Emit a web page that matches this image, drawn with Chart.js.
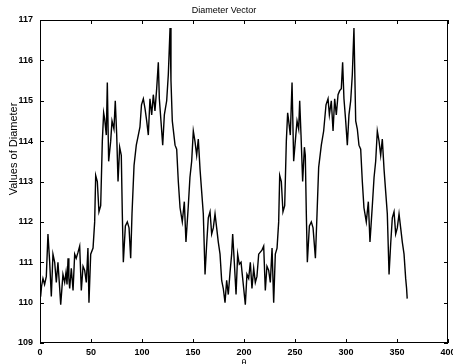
<!DOCTYPE html>
<html>
<head>
<meta charset="utf-8">
<script src="https://cdn.jsdelivr.net/npm/chart.js@4/dist/chart.umd.min.js"></script>
<style>
html,body{margin:0;padding:0;background:#fff;overflow:hidden;}
#wrap{width:453px;height:364px;position:relative;}
</style>
</head>
<body>
<div id="wrap"><canvas id="c"></canvas></div>
<script>
const chartTitle = 'Diameter Vector';
const yAxisTitle = 'Values of Diameter';
const xAxisTitle = 'θ';
const xTickValues = [0, 50, 100, 150, 200, 250, 300, 350, 400];
const yTickValues = [109, 110, 111, 112, 113, 114, 115, 116, 117];

const thetas = [
0.6,1.5,2.9,4.5,6.2,7.8,9.5,11.1,12.7,14.4,16.0,17.6,19.3,20.3,22.5,24.2,25.5,26.5,27.5,28.3,29.1,30.7,32.4,34.0,35.5,37.3,38.9,40.5,42.2,43.8,45.4,47.0,48.0,49.7,52.0,53.6,54.6,56.2,57.8,59.5,
61.1,62.4,63.4,65.0,66.0,67.3,69.3,70.6,72.5,73.8,75.2,76.5,78.1,79.7,80.7,81.7,83.7,85.6,87.3,88.9,90.2,92.2,94.4,96.0,98.0,99.5,101.3,103.0,104.6,106.2,107.8,109.5,111.1,112.7,114.4,116.0,117.0,118.6,120.3,121.9,
124.2,125.8,127.5,128.4,129.7,132.4,134.0,135.6,137.3,139.5,141.5,143.1,145.4,147.0,148.7,150.3,151.9,153.6,155.2,156.9,158.5,160.1,161.8,163.4,165.0,166.7,168.3,169.9,171.6,173.2,174.8,176.5,178.1,179.7,
181.4,183.0,184.6,186.3,187.9,188.9,190.5,192.2,193.8,195.4,197.1,198.7,199.7,201.3,202.9,204.6,206.2,207.8,209.5,211.1,212.7,214.4,216.0,217.6,219.3,220.9,222.5,224.2,225.8,227.5,229.1,230.7,232.4,234.0,235.0,236.6,238.2,239.9,
241.5,242.8,243.8,245.4,247.1,248.7,250.3,252.0,253.6,254.6,255.9,257.5,259.2,260.1,261.1,262.1,264.1,266.0,267.7,270.0,271.6,273.2,275.8,278.1,280.4,282.4,283.7,285.6,287.3,288.9,290.5,292.2,293.8,295.4,296.7,298.0,299.7,
301.3,302.9,304.6,306.2,307.8,309.5,311.1,312.7,314.4,316.0,317.6,319.9,321.9,323.5,325.8,327.5,329.1,330.7,332.4,334.0,335.6,337.3,338.9,340.5,342.2,343.8,345.4,347.1,348.7,350.3,352.0,353.6,355.2,356.9,358.5,359.4,360.0
];
const diameters = [
110.15,110.4,110.6,110.45,110.65,111.7,111.0,110.15,111.2,111.0,110.5,111.0,110.35,109.95,110.7,110.5,110.75,110.45,111.1,110.6,110.35,110.85,110.3,111.2,111.1,111.25,111.4,110.3,110.9,110.8,110.5,111.35,110.0,111.2,111.35,112.0,113.15,113.0,112.25,112.4,
114.0,114.7,114.55,114.15,115.45,113.5,114.0,114.5,114.3,115.0,114.15,113.0,113.85,113.65,112.2,111.0,111.9,112.0,111.85,111.1,112.2,113.4,113.9,114.1,114.35,114.9,115.05,114.8,114.5,114.15,115.05,114.65,115.15,114.75,115.3,115.95,115.05,114.5,113.9,114.65,
115.0,115.65,116.8,115.5,114.5,113.9,113.8,113.0,112.35,112.0,112.5,111.5,112.4,113.1,113.5,114.25,114.0,113.65,114.05,113.3,112.75,112.2,110.7,111.45,112.1,112.25,111.7,111.85,112.2,111.85,111.5,111.2,110.55,110.35,
110.0,110.55,110.2,110.75,111.2,111.7,111.0,110.2,111.2,110.95,111.0,110.6,110.35,109.95,110.7,110.6,111.0,110.35,110.85,110.5,110.65,111.2,111.25,111.3,111.4,110.3,110.9,110.8,110.5,111.35,110.0,111.2,111.35,112.0,113.15,113.0,112.25,112.4,
114.0,114.7,114.5,114.15,115.45,113.5,114.0,114.5,114.3,115.0,114.15,113.0,113.85,113.65,112.2,111.0,111.9,112.0,111.85,111.1,112.2,113.35,113.9,114.25,114.9,115.05,114.65,115.0,114.25,115.05,114.65,115.15,115.25,115.3,115.95,115.05,114.5,
113.9,114.65,115.0,115.65,116.8,114.5,114.3,113.9,113.8,113.0,112.35,112.0,112.5,111.5,112.4,113.1,113.5,114.25,114.0,113.65,114.05,113.3,112.75,112.2,110.7,111.45,112.1,112.25,111.7,111.85,112.2,111.85,111.5,111.2,110.6,110.35,110.1
];

const points = thetas.map((t, i) => ({x: t, y: diameters[i]}));

const boxPlugin = {
  id: 'matlabBox',
  afterDatasetsDraw(chart) {
    const {ctx, chartArea: a, scales: {x, y}} = chart;
    ctx.save();
    ctx.strokeStyle = '#000';
    ctx.lineWidth = 1;
    ctx.strokeRect(a.left + 0.5, a.top + 0.5, a.right - a.left - 1, a.bottom - a.top - 1);
    ctx.beginPath();
    const tl = 4;
    xTickValues.forEach(v => {
      const px = Math.round(x.getPixelForValue(v)) + 0.5;
      ctx.moveTo(px, a.bottom); ctx.lineTo(px, a.bottom - tl);
      ctx.moveTo(px, a.top); ctx.lineTo(px, a.top + tl);
    });
    yTickValues.forEach(v => {
      const py = Math.round(y.getPixelForValue(v)) + 0.5;
      ctx.moveTo(a.left, py); ctx.lineTo(a.left + tl, py);
      ctx.moveTo(a.right, py); ctx.lineTo(a.right - tl, py);
    });
    ctx.stroke();
    ctx.fillStyle = '#000';
    ctx.font = '11px "Liberation Sans", Arial, sans-serif';
    ctx.textAlign = 'center';
    ctx.textBaseline = 'middle';
    ctx.translate(14, 149);
    ctx.rotate(-Math.PI / 2);
    ctx.fillText(yAxisTitle, 0, 0);
    ctx.setTransform(1, 0, 0, 1, 0, 0);
    ctx.font = '9px "Liberation Sans", Arial, sans-serif';
    ctx.textBaseline = 'top';
    ctx.fillText(xAxisTitle, (a.left + a.right) / 2, 359);
    ctx.restore();
  }
};

new Chart(document.getElementById('c'), {
  type: 'line',
  data: {
    datasets: [{
      data: points,
      borderColor: '#000',
      borderWidth: 1.4,
      pointRadius: 0,
      tension: 0,
      fill: false
    }]
  },
  options: {
    responsive: true,
    maintainAspectRatio: false,
    animation: false,
    devicePixelRatio: 1,
    layout: {padding: {left: 0, right: 5, top: 0, bottom: 0}},
    plugins: {
      legend: {display: false},
      tooltip: {enabled: false},
      title: {
        display: true,
        text: chartTitle,
        color: '#000',
        font: {family: '"Liberation Sans", Arial, sans-serif', size: 9, weight: 'normal', lineHeight: 1.2},
        padding: {top: 5, bottom: 4.2}
      }
    },
    scales: {
      x: {
        type: 'linear',
        min: 0, max: 400,
        grid: {display: false, drawTicks: false},
        border: {display: false},
        afterBuildTicks: s => { s.ticks = xTickValues.map(v => ({value: v})); },
        afterFit: s => { s.height = 21; s.paddingLeft = 0; s.paddingRight = 0; },
        ticks: {
          color: '#000', padding: 4, maxRotation: 0, autoSkip: false,
          font: {family: '"Liberation Sans", Arial, sans-serif', size: 9, weight: 'bold'}
        }
      },
      y: {
        type: 'linear',
        min: 109, max: 117,
        grid: {display: false, drawTicks: false},
        border: {display: false},
        afterBuildTicks: s => { s.ticks = yTickValues.map(v => ({value: v})); },
        afterFit: s => { s.width = 40; s.paddingTop = 0; s.paddingBottom = 0; },
        ticks: {
          color: '#000', padding: 7, autoSkip: false,
          font: {family: '"Liberation Sans", Arial, sans-serif', size: 9, weight: 'bold'}
        }
      }
    }
  },
  plugins: [boxPlugin]
});
</script>
</body>
</html>
